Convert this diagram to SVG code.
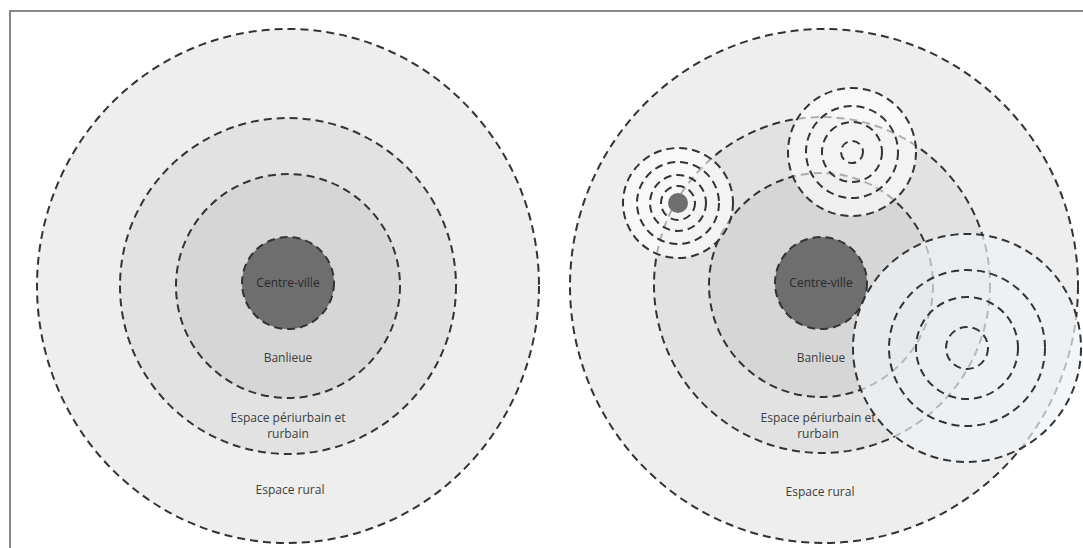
<svg xmlns="http://www.w3.org/2000/svg" width="1083" height="548" viewBox="0 0 1083 548">
<style>
.d{fill:none;stroke:#333;stroke-width:2;stroke-dasharray:8 5}
.r0{fill:#eeeeee}
.r1{fill:#e2e2e2}
.r2{fill:#d6d6d6}
.c{fill:#6e6e6e}
.cl{fill:#ffffff;fill-opacity:0.6}
.cb{fill:#eef2f6;fill-opacity:0.7}
text{font-family:"Open Sans","Liberation Sans",sans-serif;font-size:12px;fill:#3c3c3c;text-anchor:middle}
text.k{fill:#2a2a2a}
</style>
<rect width="1083" height="548" fill="#ffffff"/>
<path d="M10 548V11H1083" fill="none" stroke="#888" stroke-width="2"/>
<g id="left">
<g id="l-rural"><ellipse class="r0" cx="288" cy="286" rx="251" ry="257"/><ellipse class="d" cx="288" cy="286" rx="251" ry="257"/></g>
<g id="l-peri"><ellipse class="r1" cx="288" cy="286" rx="168" ry="168"/><ellipse class="d" cx="288" cy="286" rx="168" ry="168"/></g>
<g id="l-banlieue"><circle class="r2" cx="288" cy="286" r="112"/><circle class="d" cx="288" cy="286" r="112"/></g>
<g id="l-centre"><circle class="c" cx="288" cy="283" r="46"/><circle class="d" cx="288" cy="283" r="46"/></g>
<text class="k" x="288" y="287">Centre-ville</text>
<text x="288" y="362">Banlieue</text>
<text x="288" y="422">Espace périurbain et</text>
<text x="288" y="438">rurbain</text>
<text x="290" y="494">Espace rural</text>
</g>
<g id="right">
<g id="r-rural"><ellipse class="r0" cx="824" cy="286" rx="254" ry="257"/><ellipse class="d" cx="824" cy="286" rx="254" ry="257"/></g>
<g id="r-peri"><circle class="r1" cx="822" cy="285" r="168"/><circle class="d" cx="822" cy="285" r="168"/></g>
<g id="r-banlieue"><circle class="r2" cx="821" cy="285" r="112"/><circle class="d" cx="821" cy="285" r="112"/></g>
<g id="r-centre"><circle class="c" cx="821" cy="283" r="46"/><circle class="d" cx="821" cy="283" r="46"/></g>
<text class="k" x="821" y="287">Centre-ville</text>
<text x="821" y="362">Banlieue</text>
<text x="818" y="422">Espace périurbain et</text>
<text x="818" y="438">rurbain</text>
<text x="820" y="496">Espace rural</text>
</g>
<g id="cluster-tl">
<circle class="cl" cx="678" cy="203" r="55"/>
<circle class="d" cx="678" cy="203" r="55"/>
<circle class="d" cx="678" cy="203" r="41"/>
<circle class="d" cx="678" cy="203" r="28"/>
<circle class="d" cx="678" cy="203" r="17"/>
<circle fill="#6e6e6e" cx="678" cy="203" r="10"/>
</g>
<g id="cluster-tr">
<circle class="cl" cx="852" cy="152" r="64"/>
<circle class="d" cx="852" cy="152" r="64"/>
<circle class="d" cx="852" cy="152" r="46"/>
<circle class="d" cx="852" cy="152" r="30"/>
<circle class="d" cx="852" cy="152" r="11"/>
</g>
<g id="cluster-br">
<circle class="cb" cx="967" cy="348" r="114"/>
<circle class="d" cx="967" cy="348" r="114"/>
<circle class="d" cx="967" cy="348" r="78"/>
<circle class="d" cx="967" cy="348" r="51"/>
<circle class="d" cx="967" cy="348" r="21"/>
</g>
</svg>
